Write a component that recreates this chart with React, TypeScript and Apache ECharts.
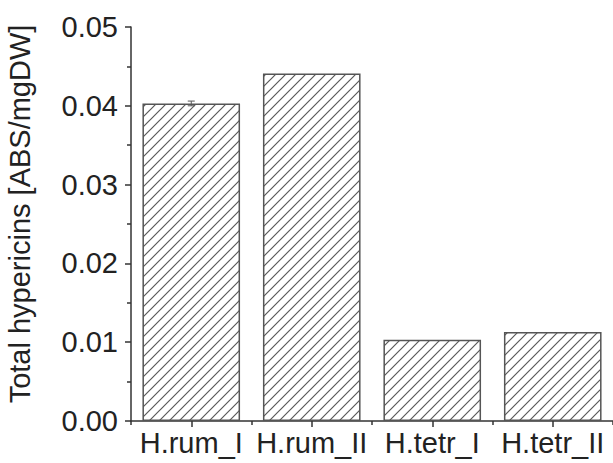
import React, { useEffect, useRef } from "react";
import * as echarts from "echarts";

const categories = ["H.rum_I", "H.rum_II", "H.tetr_I", "H.tetr_II"];
const values = [0.0403, 0.0441, 0.0103, 0.0113];
const errors = [0.0003, 0, 0, 0];
const yTicks = { min: 0, max: 0.05, interval: 0.01 };
const yTitle = "Total hypericins [ABS/mgDW]";

function makeHatch(): HTMLCanvasElement {
  const c = document.createElement("canvas");
  c.width = 10;
  c.height = 10;
  const ctx = c.getContext("2d")!;
  ctx.fillStyle = "#ffffff";
  ctx.fillRect(0, 0, 10, 10);
  ctx.strokeStyle = "#5a5a5a";
  ctx.lineWidth = 1.2;
  ctx.beginPath();
  ctx.moveTo(-1, 11);
  ctx.lineTo(11, -1);
  ctx.moveTo(-2, 2);
  ctx.lineTo(2, -2);
  ctx.moveTo(8, 12);
  ctx.lineTo(12, 8);
  ctx.stroke();
  return c;
}

export default function App() {
  const ref = useRef<HTMLDivElement>(null);
  useEffect(() => {
    if (!ref.current) return;
    const chart = echarts.init(ref.current, null, { renderer: "svg" });
    const font = "'Liberation Sans', Arial, sans-serif";
    const axisColor = "#333333";
    const hatch = makeHatch();
    chart.setOption({
      animation: false,
      backgroundColor: "#ffffff",
      grid: { left: 131, top: 27, right: -6, bottom: 42 },
      xAxis: [
        {
          type: "category",
          data: categories,
          axisLine: { show: true, lineStyle: { color: axisColor, width: 1.5 } },
          axisTick: { show: true, alignWithLabel: true, length: 6, lineStyle: { color: axisColor, width: 1.5 } },
          axisLabel: { color: "#222", fontSize: 29, fontFamily: font, margin: 7, interval: 0, hideOverlap: false },
        },
        {
          type: "category",
          data: categories,
          position: "bottom",
          axisLine: { show: false },
          axisTick: { show: true, length: 4, lineStyle: { color: axisColor, width: 1.5 } },
          axisLabel: { show: false },
        },
      ],
      yAxis: {
        type: "value",
        min: yTicks.min,
        max: yTicks.max,
        interval: yTicks.interval,
        axisLine: { show: true, lineStyle: { color: axisColor, width: 1.5 } },
        axisTick: { show: true, length: 6, lineStyle: { color: axisColor, width: 1.5 } },
        minorTick: { show: true, splitNumber: 2, length: 4, lineStyle: { color: axisColor, width: 1.5 } },
        splitLine: { show: false },
        axisLabel: {
          color: "#222",
          fontSize: 29,
          fontFamily: font,
          margin: 13,
          formatter: (v: number) => v.toFixed(2),
        },
      },
      graphic: [
        {
          type: "text",
          x: 20,
          y: 214,
          rotation: Math.PI / 2,
          style: {
            text: yTitle,
            fontSize: 29,
            fontFamily: font,
            fill: "#222",
            align: "center",
            verticalAlign: "middle",
          },
        },
      ],
      series: [
        {
          type: "bar",
          data: values,
          barWidth: "81%",
          itemStyle: {
            color: { image: hatch, repeat: "repeat" },
            borderColor: "#555555",
            borderWidth: 1.5,
          },
        },
        {
          type: "custom",
          data: values.map((v, i) => [i, v, errors[i]]),
          renderItem: (params: any, api: any) => {
            const i = api.value(0);
            const v = api.value(1);
            const e = api.value(2);
            if (!e) return null;
            const top = api.coord([i, v + e]);
            const bot = api.coord([i, v - e]);
            const hw = 3.5;
            const style = { stroke: "#555", lineWidth: 1 };
            return {
              type: "group",
              children: [
                { type: "line", shape: { x1: top[0], y1: top[1], x2: bot[0], y2: bot[1] }, style },
                { type: "line", shape: { x1: top[0] - hw, y1: top[1], x2: top[0] + hw, y2: top[1] }, style },
                { type: "line", shape: { x1: bot[0] - hw, y1: bot[1], x2: bot[0] + hw, y2: bot[1] }, style },
              ],
            };
          },
          z: 5,
        },
      ],
    });
    return () => chart.dispose();
  }, []);
  return (
    <div
      ref={ref}
      style={{ position: "fixed", left: 0, top: 0, width: 613, height: 463, background: "#fff" }}
    />
  );
}
